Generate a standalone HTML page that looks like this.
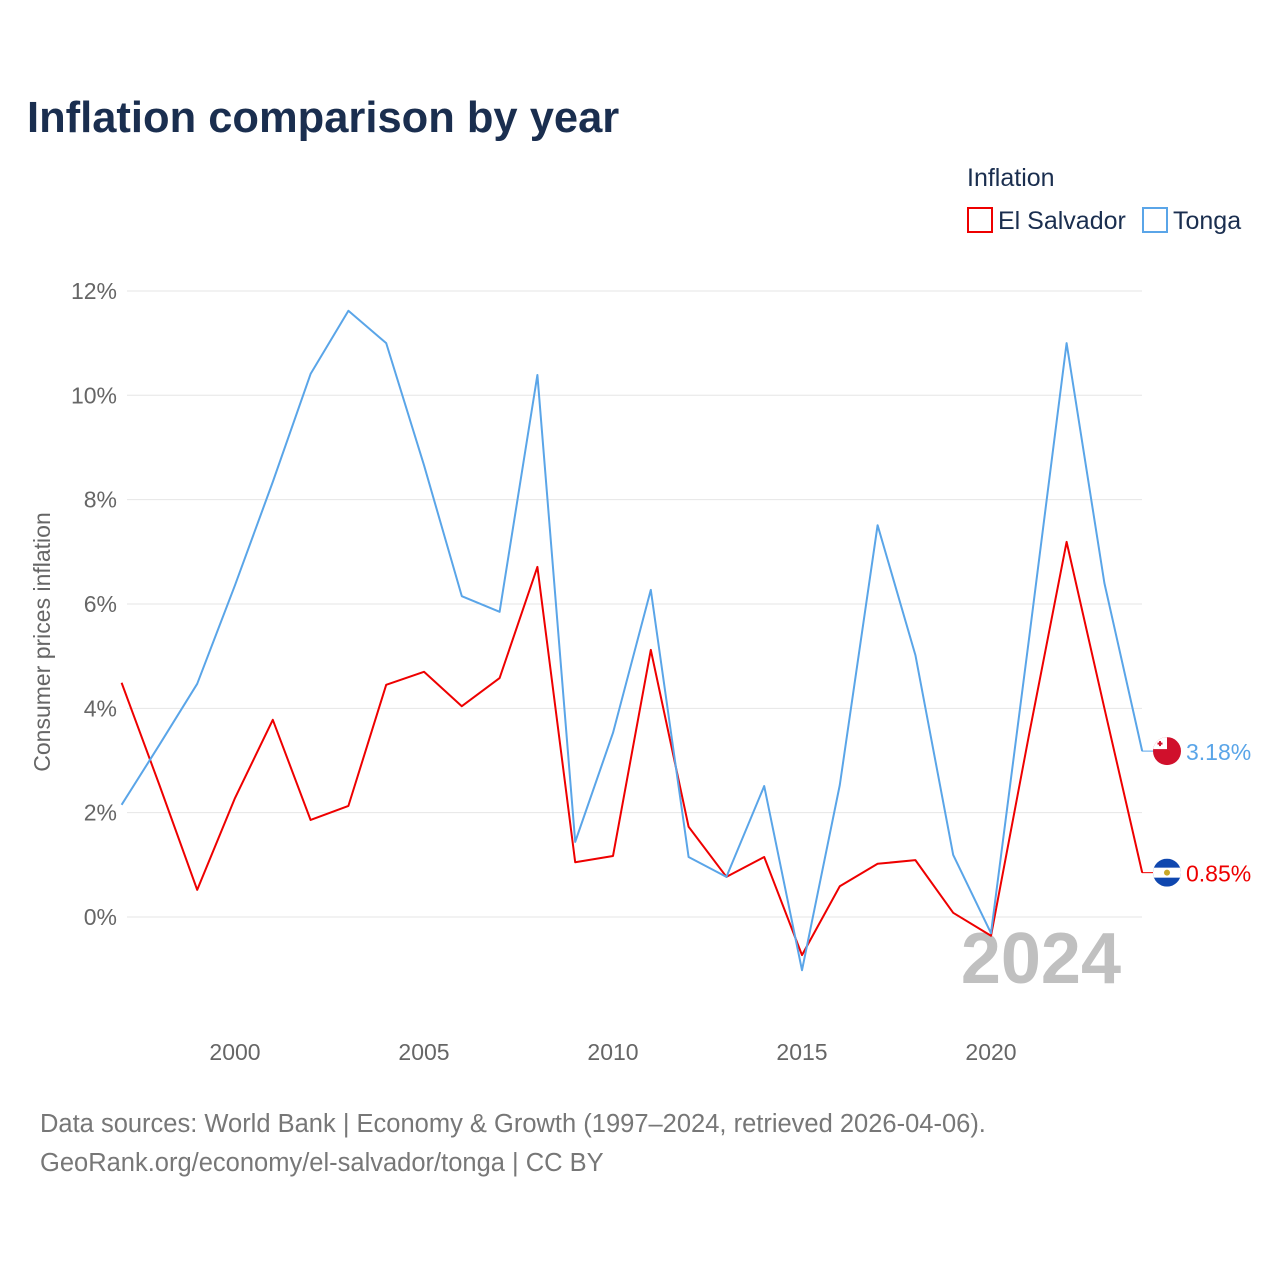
<!DOCTYPE html>
<html><head><meta charset="utf-8"><style>
body{margin:0;background:#fff;font-family:"Liberation Sans",sans-serif}
</style></head><body>
<svg width="1280" height="1280" xmlns="http://www.w3.org/2000/svg" font-family="Liberation Sans, sans-serif">
<text x="27" y="132" font-size="43.5" font-weight="bold" fill="#1a2e4f">Inflation comparison by year</text>
<text x="967" y="186" font-size="25" fill="#1a2e4f">Inflation</text>
<g><rect x="968" y="208" width="24" height="24" fill="none" stroke="#ee0000" stroke-width="2"/><text x="998" y="229" font-size="25" fill="#1a2e4f">El Salvador</text></g>
<g><rect x="1143" y="208" width="24" height="24" fill="none" stroke="#5aa5e8" stroke-width="2"/><text x="1173" y="229" font-size="25" fill="#1a2e4f">Tonga</text></g>
<g id="grid"></g><g id="yt"></g><g id="xt"></g>
<text transform="translate(50,642) rotate(-90)" text-anchor="middle" font-size="23" fill="#666">Consumer prices inflation</text>
<text x="1121" y="983" text-anchor="end" font-size="72" font-weight="bold" fill="#c0c0c0">2024</text>
<g id="series"></g>
<text x="40" y="1132" font-size="25.5" fill="#777">Data sources: World Bank | Economy &amp; Growth (1997–2024, retrieved 2026-04-06).</text>
<text x="40" y="1171" font-size="25.5" fill="#777">GeoRank.org/economy/el-salvador/tonga | CC BY</text>
</svg>
<script>
const years=[1997,1998,1999,2000,2001,2002,2003,2004,2005,2006,2007,2008,2009,2010,2011,2012,2013,2014,2015,2016,2017,2018,2019,2020,2021,2022,2023,2024];
const elSalvador=[4.49,2.53,0.52,2.28,3.78,1.86,2.13,4.45,4.70,4.04,4.58,6.71,1.05,1.17,5.12,1.73,0.77,1.15,-0.73,0.59,1.02,1.09,0.08,-0.36,3.47,7.19,4.0,0.85];
const tonga=[2.15,3.3,4.47,6.36,8.34,10.41,11.62,11.0,8.66,6.15,5.85,10.39,1.44,3.53,6.27,1.15,0.77,2.51,-1.02,2.53,7.51,5.02,1.19,-0.31,5.3,11.0,6.40,3.18];
const yTicks=[0,2,4,6,8,10,12];
const xTicks=[2000,2005,2010,2015,2020];
const NS="http://www.w3.org/2000/svg";
const X=y=>235+(y-2000)*37.8, Y=v=>917-v*52.17;
function mk(t,a,p){const e=document.createElementNS(NS,t);for(const k in a)e.setAttribute(k,a[k]);document.getElementById(p).appendChild(e);return e;}
yTicks.forEach(v=>{
 const l=mk('line',{x1:127,x2:1142,y1:Y(v),y2:Y(v),stroke:'#e6e6e6','stroke-width':1},'grid');
 
 
 const t=mk('text',{x:117,y:Y(v)+8,'text-anchor':'end','font-size':23,fill:'#666'},'yt');t.textContent=v+'%';
 
 
});
xTicks.forEach(v=>{
 const t=mk('text',{x:X(v),y:1060,'text-anchor':'middle','font-size':23,fill:'#666'},'xt');t.textContent=v;
 
 
});
function series(vals,col,name){
 const p=mk('polyline',{points:vals.map((v,i)=>X(years[i])+','+Y(v)).join(' '),fill:'none',stroke:col,'stroke-width':2,'stroke-linejoin':'round'},'series');
 
 
 const last=vals[vals.length-1],ly=Y(last);
 const c=mk('line',{x1:1142,x2:1153,y1:ly,y2:ly,stroke:col,'stroke-width':1},'series');
 
 
 const t=mk('text',{x:1186,y:ly+9,'font-size':23,fill:col},'series');t.textContent=last.toFixed(2)+'%';
 
 
 return ly;
}
const ly1=series(elSalvador,'#ee0000','el-salvador');
const ly2=series(tonga,'#5aa5e8','tonga');
let g=mk('g',{},'series');


g.innerHTML=`<clipPath id="c1"><circle cx="1167" cy="${ly1}" r="14"/></clipPath><g clip-path="url(#c1)"><rect x="1153" y="${ly1-14}" width="28" height="28" fill="#0f47af"/><rect x="1153" y="${ly1-5}" width="28" height="10" fill="#fff"/><circle cx="1167" cy="${ly1}" r="3" fill="#c8a828"/></g>`;
let g2=mk('g',{},'series');


g2.innerHTML=`<clipPath id="c2"><circle cx="1167" cy="${ly2}" r="14"/></clipPath><g clip-path="url(#c2)"><rect x="1153" y="${ly2-14}" width="28" height="28" fill="#d0102c"/><rect x="1153" y="${ly2-14}" width="14" height="12" fill="#fff"/><rect x="1159" y="${ly2-10}" width="2" height="5" fill="#d0102c"/><rect x="1157.5" y="${ly2-8.5}" width="5" height="2" fill="#d0102c"/></g>`;
</script>
</body></html>
